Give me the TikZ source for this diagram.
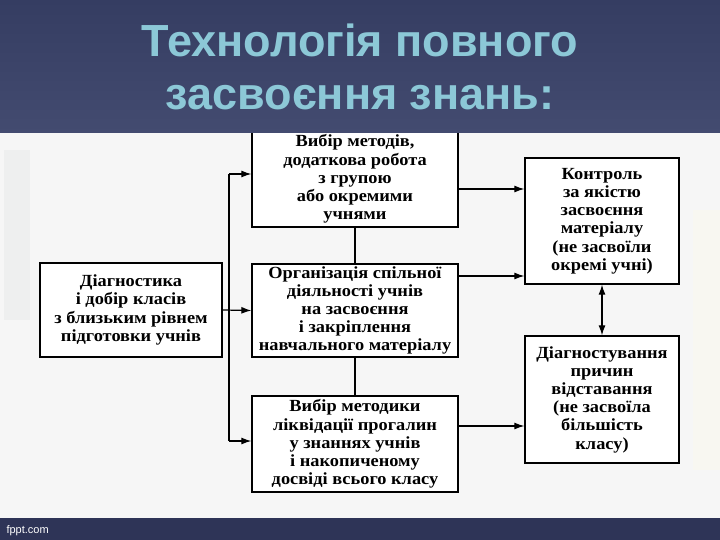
\documentclass[tikz,border=0pt]{standalone}
\usepackage{fontspec}
\setmainfont{Liberation Serif}
\setsansfont{Liberation Sans}
\newfontfamily\boxfont[FakeStretch=1.08]{Liberation Serif}
\usetikzlibrary{arrows.meta}
\definecolor{bannertop}{HTML}{353D62}
\definecolor{bannerbot}{HTML}{434B70}
\definecolor{titletext}{HTML}{8CC8D7}
\definecolor{footer}{HTML}{2E3457}
\definecolor{paper}{HTML}{F6F6F6}
\definecolor{panelleft}{HTML}{EEEFEF}
\definecolor{panelright}{HTML}{F8F7F1}

\begin{document}
\begin{tikzpicture}[x=1pt,y=-1pt,
    box/.style={draw, line width=1.3pt, fill=white, align=center, inner sep=0pt,
      font=\boxfont\bfseries\fontsize{17}{18.2}\selectfont},
    conn/.style={line width=1.2pt},
    tip/.style={-{Latex[length=10pt,width=7pt]}}]
		\useasboundingbox (0,0) rectangle (720,540);
		\fill[paper] (0,0) rectangle (720,540);
		\fill[panelleft] (4,150) rectangle (30,320);
		\fill[panelright] (693,210) rectangle (720,470);
		
		% left box
		\node[box, minimum width=182pt, minimum height=94pt] (diag) at (131,310)
		  {Діагностика\\ і добір класів\\ з близьким рівнем\\ підготовки учнів};
		
		% middle column
		\node[box, minimum width=206pt, minimum height=96pt] (vybir) at (355,179)
		  {Вибір методів,\\ додаткова робота\\ з групою\\ або окремими\\ учнями};
		\node[box, minimum width=206pt, minimum height=93pt] (org) at (355,310.5)
		  {Організація спільної\\ діяльності учнів\\ на засвоєння\\ і закріплення\\ навчального матеріалу};
		\node[box, minimum width=206pt, minimum height=96pt] (likv) at (355,444)
		  {Вибір методики\\ ліквідації прогалин\\ у знаннях учнів\\ і накопиченому\\ досвіді всього класу};
		
		% right column
		\node[box, minimum width=154pt, minimum height=126pt] (kontr) at (602,221)
		  {Контроль\\ за якістю\\ засвоєння\\ матеріалу\\ (не засвоїли\\ окремі учні)};
		\node[box, minimum width=154pt, minimum height=127pt] (diagn) at (602,399.5)
		  {Діагностування\\ причин\\ відставання\\ (не засвоїла\\ більшість\\ класу)};
		
		% bus on the left
		\coordinate (bt) at (229,174);
		\coordinate (bb) at (229,441);
		\draw[conn] (bt) -- (bb);
		\draw[conn,tip] (bt) -- (bt -| vybir.west);
		\draw[conn,tip] (diag.east) -- (org.west);
		\draw[conn,tip] (bb) -- (bb -| likv.west);
		
		\draw[conn] (vybir.south) -- (org.north);
		\draw[conn] (org.south) -- (likv.north);
		
		% to the right column
		\draw[conn,tip] ([yshift=-10pt]vybir.east) coordinate (a1) -- (a1 -| kontr.west);
		\draw[conn,tip] ([yshift=34.5pt]org.east) coordinate (a2) -- (a2 -| kontr.west);
		\draw[conn,tip] ([yshift=18pt]likv.east) coordinate (a3) -- (a3 -| diagn.west);
		\draw[conn,{Latex[length=10pt,width=7pt]}-{Latex[length=10pt,width=7pt]}] (kontr.south) -- (diagn.north);
		
		% banner and footer
		\shade[top color=bannertop, bottom color=bannerbot] (0,0) rectangle (720,133);
		\node[anchor=base, text=titletext, font=\sffamily\bfseries\fontsize{45}{50}\selectfont] (t1) at (360,57) {Технологія повного};
		\node[anchor=base, text=titletext, font=\sffamily\bfseries\fontsize{45}{50}\selectfont] (t2) at (360,110) {засвоєння знань:};
		\fill[footer] (0,518) rectangle (720,540);
		\node[anchor=base west, text=white, font=\sffamily\fontsize{11}{12}\selectfont] (site) at (3,533) {fppt.com};
	\end{tikzpicture}
\end{document}
